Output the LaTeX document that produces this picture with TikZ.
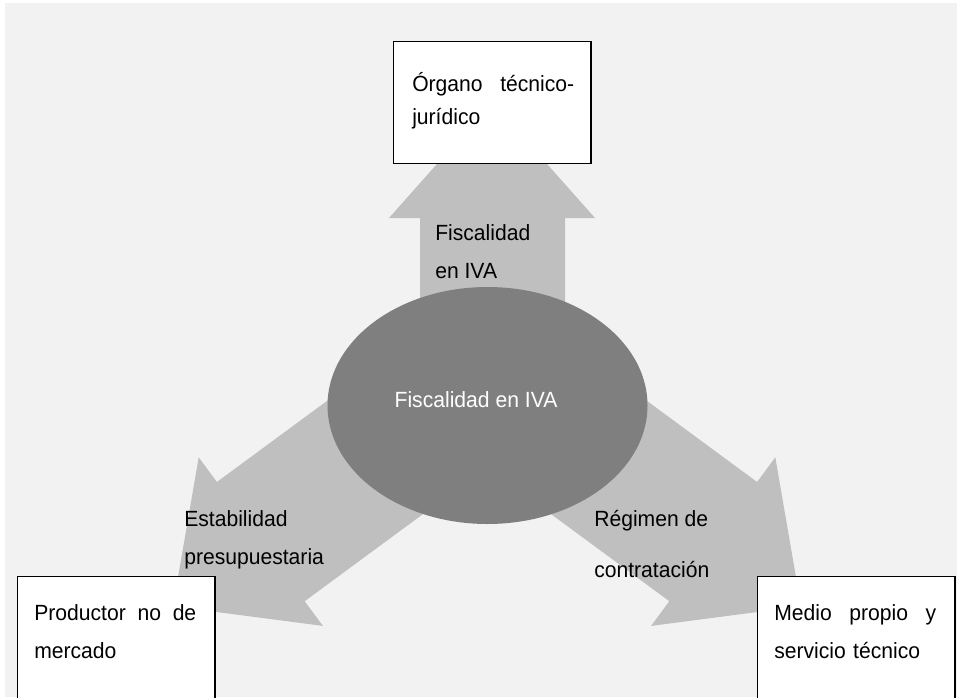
\documentclass[tikz,border=0pt]{standalone}
\usepackage{fontspec}
\setmainfont{Liberation Sans}[FakeStretch=0.96]
\definecolor{ivaback}{RGB}{242,242,242}
\definecolor{ivaarrow}{RGB}{191,191,191}
\definecolor{ivacore}{RGB}{127,127,127}
\usetikzlibrary{positioning,shapes.geometric}

\begin{document}
\begin{tikzpicture}[x=0.75pt,y=-0.75pt,
    every node/.style={font=\fontsize{16.5}{28.5}\selectfont},
    sidebox/.style={draw=black,line width=0.9pt,fill=white,minimum width=148pt,
      inner sep=0pt,anchor=north west},
    boxtext/.style={text width=121.5pt,align=left,inner sep=0pt,anchor=base west},
    arrowtext/.style={align=left,inner sep=0pt,anchor=base west}]
  \useasboundingbox (0,0) rectangle (957,697);
  \clip (0,0) rectangle (957,697);
  \fill[ivaback] (5,3) rectangle (957,697);
  \fill[ivaarrow] (420,375) -- (420,218) -- (389,218) -- (492,102) -- (595,218)
    -- (565,218) -- (565,375) -- cycle;
  \fill[ivaarrow] (443.1,315.4) -- (216.9,482.0) -- (198.7,457.3) -- (173,606.3)
    -- (322.9,625.9) -- (304.7,601.2) -- (530.9,434.6) -- cycle;
  \fill[ivaarrow] (530.9,315.4) -- (757.1,482.0) -- (775.3,457.3) -- (801,606.3)
    -- (651.1,625.9) -- (669.3,601.2) -- (443.1,434.6) -- cycle;
  \node[ellipse,fill=ivacore,minimum width=240pt,minimum height=177.75pt,
        inner sep=0pt] (fiscal) at (487.5,405.5) {};
  \node[text=white,inner sep=0pt,anchor=base] (fiscaltxt) at (476,407) {Fiscalidad en IVA};
  \node[sidebox,minimum height=91.5pt] (organo) at (393,41) {};
  \node[sidebox,minimum height=105pt] (productor) at (17,576) {};
  \node[sidebox,minimum height=105pt] (medio) at (757,576) {};
  \node[boxtext] (organotxt) at (412,91) {Órgano\hfill técnico-\\[-3.75pt]jurídico};
  \node[boxtext] (productortxt) at (34,620) {Productor\hfill no\hfill de\\mercado};
  \node[boxtext] (mediotxt) at (774,620) {Medio\hfill propio\hfill y\\servicio técnico};
  \node[arrowtext] (organolbl) at (435,278) {Fiscalidad\\en IVA};
  \node[arrowtext] (productorlbl) at (184,564) {Estabilidad\\presupuestaria};
  \node[arrowtext] (mediolbl) at (594,577) {Régimen de\\[9.75pt]contratación};
\end{tikzpicture}
\end{document}
